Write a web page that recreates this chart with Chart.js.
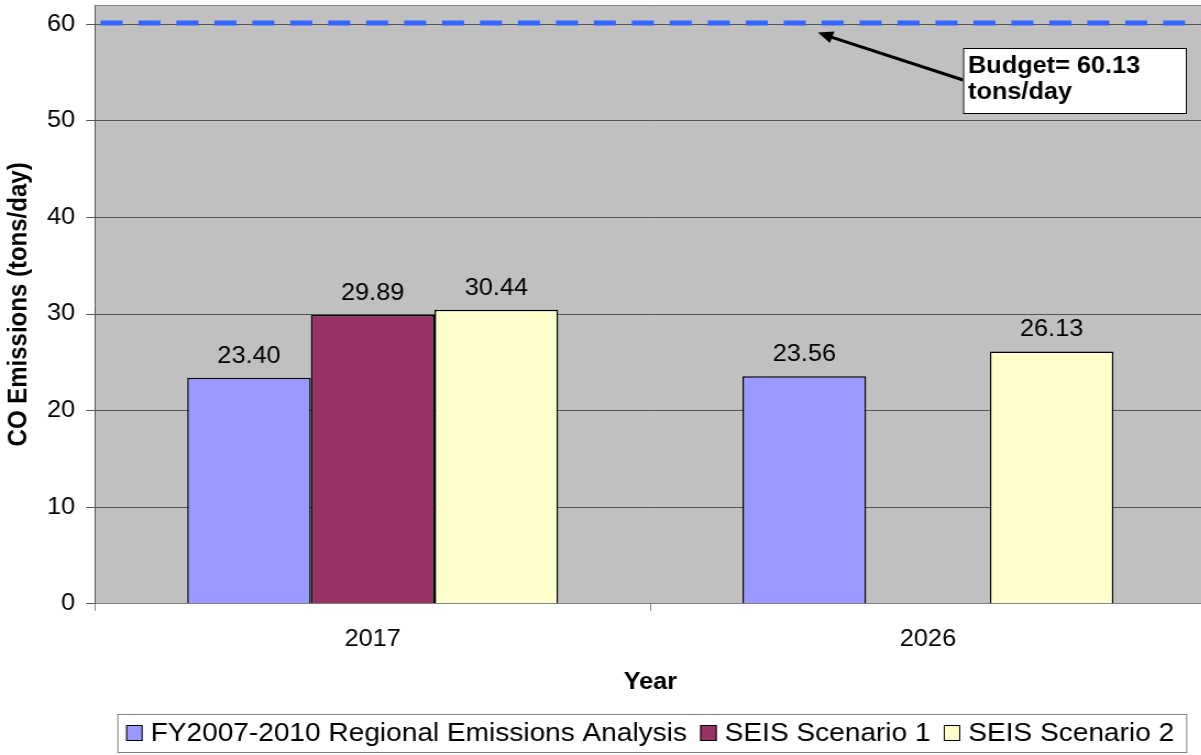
<!DOCTYPE html>
<html>
<head>
<meta charset="utf-8">
<script src="https://cdn.jsdelivr.net/npm/chart.js@4/dist/chart.umd.min.js"></script>
<style>
  html, body { margin: 0; padding: 0; background: #fff; overflow: hidden; width: 1201px; height: 755px; }
  /* the reference is a little wider than tall, so the whole drawing is stretched sideways */
  #wrap { width: 1096px; height: 755px; position: relative; transform: scaleX(1.1); transform-origin: 0 0; }
</style>
</head>
<body>
<div id="wrap"><canvas id="chart"></canvas></div>
<script>
// values
const years = ["2017", "2026"];
const regionalAnalysis = [23.40, 23.56];
const scenario1 = [29.89, null];
const scenario2 = [30.44, 26.13];
const seriesNames = ["FY2007-2010 Regional Emissions Analysis", "SEIS Scenario 1", "SEIS Scenario 2"];
const seriesColors = ["#9999FF", "#993366", "#FFFFCC"];
const yTicks = [0, 10, 20, 30, 40, 50, 60];
const budget = 60.13;
const budgetText = ["Budget= 60.13", "tons/day"];

const FONT = "'Liberation Sans', Arial, sans-serif";

const extras = {
    id: "extras",
    beforeDraw(chart) {
        const { ctx, chartArea: a } = chart;
        ctx.save();
        ctx.fillStyle = "#C0C0C0";
        ctx.fillRect(a.left, a.top, a.right - a.left, a.bottom - a.top);
        ctx.restore();
    },
    afterDatasetsDraw(chart) {
        const { ctx, chartArea: a } = chart;
        const y = chart.scales.y;
        ctx.save();

        // plot border on top
        ctx.strokeStyle = "#808080";
        ctx.lineWidth = 1;
        ctx.beginPath();
        ctx.moveTo(a.left, a.top + 0.5);
        ctx.lineTo(a.right, a.top + 0.5);
        ctx.stroke();

        // value labels
        ctx.fillStyle = "#000";
        ctx.font = "23px " + FONT;
        ctx.textAlign = "center";
        ctx.textBaseline = "alphabetic";
        chart.data.datasets.forEach((ds, i) => {
            chart.getDatasetMeta(i).data.forEach((bar, j) => {
                const v = ds.data[j];
                if (v == null) return;
                ctx.fillText(v.toFixed(2), bar.x, bar.y - 15);
            });
        });

        // budget dashed line
        const by = y.getPixelForValue(budget);
        ctx.strokeStyle = "#3366FF";
        ctx.lineWidth = 5;
        ctx.setLineDash([20, 14.5]);
        ctx.beginPath();
        ctx.moveTo(a.left + 5, by);
        ctx.lineTo(a.right, by);
        ctx.stroke();
        ctx.setLineDash([]);

        // annotation arrow + box
        const bx = 875.5, bt = 48, bw = 202.5, bh = 65;
        const tipX = 743.6, tipY = by + 9.5;
        const tailX = bx, tailY = 80;
        ctx.strokeStyle = "#000";
        ctx.lineWidth = 3;
        ctx.beginPath();
        ctx.moveTo(tailX, tailY);
        ctx.lineTo(tipX + 8, tipY + 3);
        ctx.stroke();
        const ang = Math.atan2(tipY - tailY, tipX - tailX);
        ctx.fillStyle = "#000";
        ctx.beginPath();
        ctx.moveTo(tipX, tipY);
        ctx.lineTo(tipX - 15 * Math.cos(ang - 0.42), tipY - 15 * Math.sin(ang - 0.42));
        ctx.lineTo(tipX - 15 * Math.cos(ang + 0.42), tipY - 15 * Math.sin(ang + 0.42));
        ctx.closePath();
        ctx.fill();

        ctx.fillStyle = "#fff";
        ctx.fillRect(bx, bt, bw, bh);
        ctx.lineWidth = 1;
        ctx.strokeRect(bx + 0.5, bt + 0.5, bw, bh);
        ctx.fillStyle = "#000";
        ctx.font = "bold 23px " + FONT;
        ctx.textAlign = "left";
        ctx.fillText(budgetText[0], bx + 4.5, bt + 25);
        ctx.fillText(budgetText[1], bx + 4.5, bt + 51);

        // legend
        ctx.font = "25.5px " + FONT;
        const sw = 15, sh = 16, gapSw = 7.3, gapItem = 12;
        const widths = chart.data.datasets.map(ds => ctx.measureText(ds.label).width);
        const total = widths.reduce((s, w) => s + sw + gapSw + w, 0) + gapItem * (widths.length - 1);
        let x = 591 - total / 2;
        const ly = 714, lh = 38;
        ctx.fillStyle = "#fff";
        ctx.fillRect(x - 8, ly, total + 19, lh);
        ctx.strokeStyle = "#808080";
        ctx.strokeRect(x - 8 + 0.5, ly + 0.5, total + 19, lh);
        ctx.textBaseline = "middle";
        chart.data.datasets.forEach((ds, i) => {
            ctx.fillStyle = ds.backgroundColor;
            ctx.fillRect(x, ly + 11, sw, sh);
            ctx.strokeStyle = "#000";
            ctx.strokeRect(x + 0.5, ly + 11.5, sw - 1, sh - 1);
            ctx.fillStyle = "#000";
            ctx.fillText(ds.label, x + sw + gapSw, ly + lh / 2 + 1);
            x += sw + gapSw + widths[i] + gapItem;
        });

        ctx.restore();
    }
};

const series = [regionalAnalysis, scenario1, scenario2];

new Chart(document.getElementById("chart"), {
    type: "bar",
    data: {
        labels: years,
        datasets: series.map((d, i) => ({
            label: seriesNames[i],
            data: d,
            backgroundColor: seriesColors[i],
            borderColor: "#000",
            borderWidth: 1.5,
            categoryPercentage: 0.668,
            barPercentage: 1
        }))
    },
    options: {
        responsive: true,
        maintainAspectRatio: false,
        animation: false,
        layout: { padding: { top: 5, left: 3, right: 0, bottom: 59 } },
        plugins: {
            legend: { display: false },
            tooltip: { enabled: false }
        },
        scales: {
            x: {
                grid: { display: true, drawOnChartArea: false, drawTicks: true, tickLength: 7, color: "#808080", offset: true },
                border: { color: "#808080" },
                ticks: { color: "#000", font: { family: FONT, size: 23 }, padding: 15 },
                title: { display: true, text: "Year", color: "#000", font: { family: FONT, size: 23, weight: "bold" }, padding: { top: 0, bottom: 0 } }
            },
            y: {
                min: 0,
                max: 62,
                afterBuildTicks(scale) {
                    scale.ticks = yTicks.map(v => ({ value: v }));
                },
                afterFit(scale) {
                    // top tick sits below the plot edge, no room needed for its label
                    scale.paddingTop = 0;
                    scale.paddingBottom = 0;
                },
                grid: { color: "#555", tickLength: 8 },
                border: { color: "#555" },
                ticks: { color: "#000", font: { family: FONT, size: 23 }, padding: 10 },
                title: { display: true, text: "CO Emissions (tons/day)", color: "#000", font: { family: FONT, size: 24, weight: "bold" }, padding: { top: 0, bottom: 1 } }
            }
        }
    },
    plugins: [extras]
});
</script>
</body>
</html>
